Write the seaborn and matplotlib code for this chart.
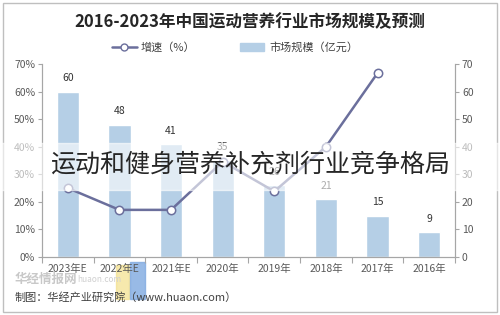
import matplotlib
matplotlib.use("Agg")
import matplotlib.pyplot as plt
import matplotlib.patches as mpatches
from matplotlib.lines import Line2D
from matplotlib.ticker import FuncFormatter, FixedLocator
import seaborn as sns
import pandas as pd

# ---- data ----
years = ["2016年", "2017年", "2018年", "2019年", "2020年", "2021年E", "2022年E", "2023年E"]
market_size = [9, 15, 21, 26, 35, 41, 48, 60]          # 亿元
growth = [None, 66.7, 40.0, 23.8, 34.6, 17.1, 17.1, 25.0]  # %
order = years[::-1]  # reference shows 2023年E on the left

title = "2016-2023年中国运动营养行业市场规模及预测"
legend_bar = "市场规模（亿元）"
legend_line = "增速（%）"
source = "制图：华经产业研究院（www.huaon.com）"
overlay = "运动和健身营养补充剂行业竞争格局"
watermark = "华经情报网"
watermark2 = "huaon.com"

df = pd.DataFrame({"year": years, "size": market_size, "growth": growth})

sns.set_theme(style="white")
plt.rcParams["font.family"] = ["Noto Sans CJK SC", "DejaVu Sans"]

bar_color = "#B5CFE6"
line_color = "#6B6F9C"
grey = "#595959"

fig = plt.figure(figsize=(5, 3.15), dpi=100)
ax = fig.add_axes([0.084, 0.184, 0.826, 0.613])   # left: growth %
ax2 = ax.twinx()                                   # right: market size

sns.barplot(data=df, x="year", y="size", order=order, color=bar_color,
            width=0.43, saturation=1, ax=ax2, zorder=2)
for c in ax2.containers:
    ax2.bar_label(c, fmt="%g", padding=6, fontsize=7.5, color="#333333")

sns.pointplot(data=df.dropna(), x="year", y="growth", order=order, color=line_color,
              markers="o", linestyles="-", errorbar=None, ax=ax,
              markerfacecolor="white", markeredgecolor=line_color,
              markersize=6, markeredgewidth=1.1, linewidth=1.8)

ax.set_zorder(ax2.get_zorder() + 1)
ax.patch.set_visible(False)

for a in (ax, ax2):
    a.set_ylim(0, 70)
    a.set_xlim(-0.5, 7.5)
    a.set_xlabel("")
    a.set_ylabel("")
    a.set_yticks(range(0, 71, 10))
    for s in a.spines.values():
        s.set_color("#A6A6A6")
        s.set_linewidth(0.8)
    a.spines["top"].set_visible(False)
    a.tick_params(axis="y", length=3, width=0.8, color="#A6A6A6",
                  labelsize=7.5, labelcolor=grey, pad=2)

ax.yaxis.set_major_formatter(FuncFormatter(lambda v, p: f"{int(v)}%"))
ax2.set_xticks(range(len(order)))
ax.set_xticks(range(len(order)))
ax.set_xticklabels(order)
ax.tick_params(axis="x", length=0, labelsize=7.5, labelcolor=grey, pad=5)
ax.xaxis.set_minor_locator(FixedLocator([i + 0.5 for i in range(-1, 8)]))
ax.tick_params(axis="x", which="minor", length=4, width=0.8, color="#A6A6A6", bottom=True)
ax2.tick_params(axis="x", labelbottom=False, length=0)

# title & legend
fig.text(0.5, 0.93, title, ha="center", va="center", fontsize=12,
         fontweight="bold", color="#262626")
handles = [Line2D([0], [0], color=line_color, lw=1.8, marker="o",
                  markerfacecolor="white", markeredgecolor=line_color, markersize=5),
           mpatches.Patch(color=bar_color)]
fig.legend(handles, [legend_line, legend_bar], loc="center",
           bbox_to_anchor=(0.47, 0.85), ncol=2, frameon=False, fontsize=8,
           handlelength=2.2, columnspacing=4, handletextpad=0.4, labelcolor="#404040")

# source
fig.text(0.03, 0.057, source, ha="left", va="center", fontsize=8, color="#404040")

# watermark
fig.patches.append(mpatches.Rectangle((0.232, 0.05), 0.026, 0.108, transform=fig.transFigure,
                                      color="#F3E08A", alpha=0.7, zorder=0))
fig.patches.append(mpatches.Rectangle((0.26, 0.05), 0.03, 0.118, transform=fig.transFigure,
                                      color="#7FA9E0", alpha=0.8, zorder=0))
fig.text(0.03, 0.112, watermark, fontsize=9, color="#C8C8C8", fontweight="bold",
         ha="left", va="center")
fig.text(0.155, 0.112, watermark2, fontsize=6, color="#D0D0D0", ha="left", va="center")

# outer border
fig.patches.append(mpatches.Rectangle((0.006, 0.01), 0.988, 0.98, transform=fig.transFigure,
                                      fill=False, edgecolor="#BFBFBF", lw=1.0, zorder=0))

# overlay band & caption
fig.patches.append(mpatches.Rectangle((0.0, 0.397), 1.0, 0.148, transform=fig.transFigure,
                                      color="white", alpha=0.6, zorder=10))
fig.text(0.5, 0.476, overlay, ha="center", va="center", fontsize=18, fontweight=300,
         color="#262626", zorder=11)

fig.savefig("out.png", dpi=100)
